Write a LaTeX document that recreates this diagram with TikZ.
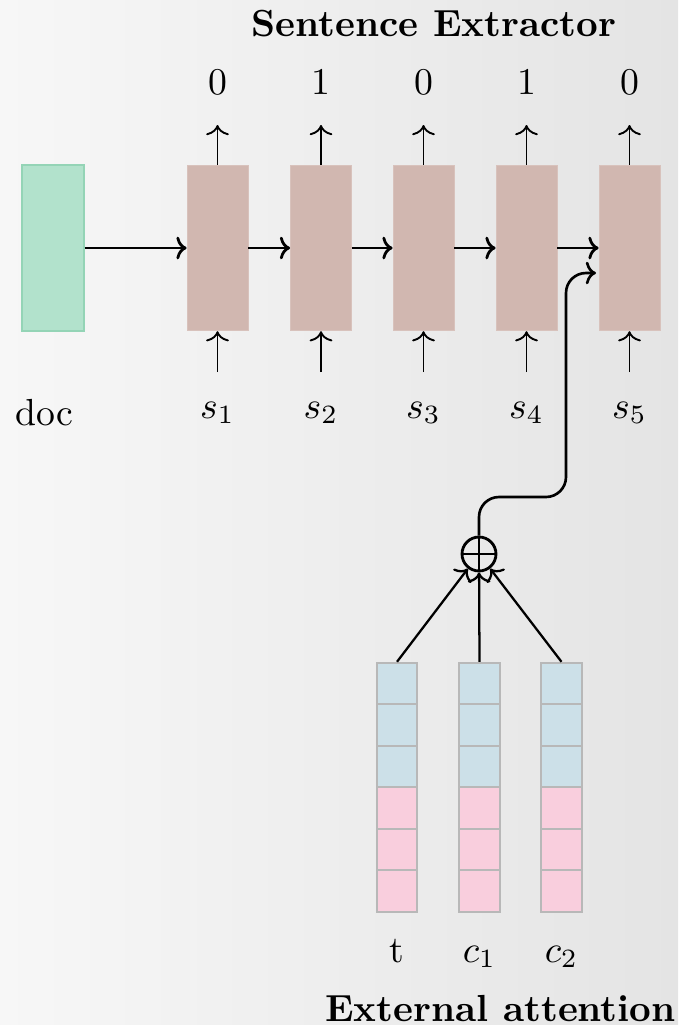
\documentclass[tikz,border=0pt]{standalone}
\usetikzlibrary{arrows.meta}
\definecolor{docgreen}{RGB}{178,226,204}
\definecolor{docedge}{RGB}{148,212,182}
\definecolor{rnnbrown}{RGB}{209,183,176}
\definecolor{cellblue}{RGB}{204,224,232}
\definecolor{cellpink}{RGB}{249,206,221}
\definecolor{cellgray}{RGB}{184,184,184}
\definecolor{bgleft}{RGB}{247,247,247}
\definecolor{bgright}{RGB}{228,228,228}
\begin{document}
\begin{tikzpicture}[x=0.265pt,y=-0.265pt, >={To[length=2.7pt,width=6pt]},
  docbox/.style={fill=docgreen, draw=docedge, line width=0.45pt, minimum width=16.3pt, minimum height=43.9pt, inner sep=0pt},
  rnn/.style={fill=rnnbrown, draw=rnnbrown!85!white, line width=0.2pt, minimum width=16.2pt, minimum height=43.9pt, inner sep=0pt},
  cellb/.style={fill=cellblue, draw=cellgray, line width=0.5pt, minimum width=10.8pt, minimum height=11pt, inner sep=0pt},
  cellp/.style={fill=cellpink, draw=cellgray, line width=0.5pt, minimum width=10.8pt, minimum height=11pt, inner sep=0pt},
  harrow/.style={->, line width=0.75pt},
  varrow/.style={->, line width=0.5pt},
  lbl/.style={anchor=base, inner sep=0pt},
  plusnode/.style={circle, draw, line width=0.75pt, minimum size=9pt, inner sep=0pt,
    path picture={\draw[line width=0.75pt] (path picture bounding box.north) -- (path picture bounding box.south)
      (path picture bounding box.west) -- (path picture bounding box.east);}}
]
\shade[left color=bgleft, right color=bgright] (0,0) rectangle (678,1025);
\useasboundingbox (0,0) rectangle (678,1025);

% title
\node[lbl] (title) at (434,37) {\bfseries Sentence Extractor};

% document box
\node[docbox] (doc) at (53,248) {};
\node[lbl] (doclbl) at (44,425) {doc};

% sentence extractor cells
\foreach \i/\x/\o in {1/217.5/0, 2/321/1, 3/423.5/0, 4/526.5/1, 5/629.5/0}{
  \node[rnn] (r\i) at (\x,248) {};
  \node[lbl] (o\i) at (\x,94) {\o};
  \coordinate (u\i) at (\x,125);
  \coordinate (d\i) at (\x,372);
  \node[lbl] (s\i) at (\x,418) {$s_\i$};
  \draw[varrow] (r\i.north) -- (u\i);
  \draw[varrow] (d\i) -- (r\i.south);
}

\draw[harrow] (doc.east) -- (r1.west);
\draw[harrow] (r1.east) -- (r2.west);
\draw[harrow] (r2.east) -- (r3.west);
\draw[harrow] (r3.east) -- (r4.west);
\draw[harrow] (r4.east) -- (r5.west);

% external attention columns
\foreach \n/\x in {t/397, a/479.5, b/561.5}{
  \foreach \k/\y in {1/683.5, 2/725, 3/766.5}{
    \node[cellb] (\n\k) at (\x,\y) {};
  }
  \foreach \k/\y in {4/808, 5/849.5, 6/891}{
    \node[cellp] (\n\k) at (\x,\y) {};
  }
}
\node[lbl] (tl) at (397,962) {t};
\node[lbl] (al) at (479.5,962) {$c_1$};
\node[lbl] (bl) at (561.5,962) {$c_2$};
\node[lbl] (ext) at (500.5,1021) {\bfseries External attention};

% combination
\node[plusnode] (plus) at (479,554) {};
\draw[->, line width=0.6pt] (t1.north) -- (plus);
\draw[->, line width=0.6pt] (a1.north) -- (plus);
\draw[->, line width=0.6pt] (b1.north) -- (plus);

\coordinate (inr5) at (596,273);
\draw[->, line width=0.7pt, rounded corners=5.3pt] (plus.north) |- (566,497) |- (inr5);
\end{tikzpicture}
\end{document}
